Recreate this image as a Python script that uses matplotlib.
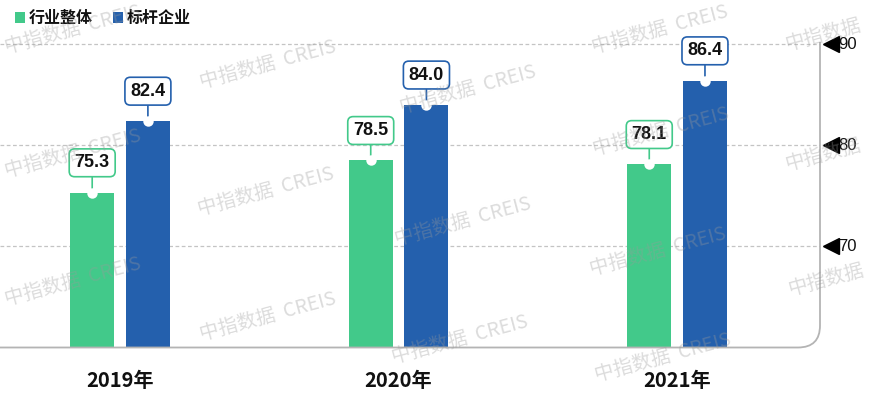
import numpy as np
import matplotlib
matplotlib.use('Agg')
import matplotlib.pyplot as plt
from matplotlib.path import Path
from matplotlib.patches import PathPatch, Rectangle
from matplotlib.transforms import Affine2D

plt.rcParams['font.family'] = ['Liberation Sans', 'Noto Sans CJK SC', 'DejaVu Sans']

# --- data ---
years = ['2019年', '2020年', '2021年']
series_names = ['行业整体', '标杆企业']
industry = [75.3, 78.5, 78.1]
benchmark = [82.4, 84.0, 86.4]
yticks = [70, 80, 90]

colors = ['#42c98a', '#2460ad']
W, H = 872, 394

fig = plt.figure(figsize=(W / 100, H / 100), dpi=100)
# pixel -> figure transform (image pixel coords, y downward)
pix = Affine2D().scale(1 / W, -1 / H).translate(0, 1) + fig.transFigure

ax = fig.add_axes([0, 47 / H, 820 / W, 347 / H])
ax.patch.set_alpha(0)
for s in ax.spines.values():
    s.set_visible(False)

x = np.arange(len(years))
width = 0.158
offs = [-0.1, 0.1]
ax.set_xlim(-0.431, 2.513)
ax.set_ylim(60, 94.4)

for yv in yticks:
    ax.axhline(yv, color='#c4c4c4', lw=0.9, ls=(0, (3, 2)), zorder=1)

for vals, off, c in zip([industry, benchmark], offs, colors):
    ax.bar(x + off, [v - 60 for v in vals], width, bottom=60, color=c, zorder=2)
    for xi, v in zip(x + off, vals):
        ax.annotate(f'{v:.1f}', xy=(xi, v), xytext=(0, 21.5),
                    textcoords='offset points', ha='center', va='center',
                    fontsize=13, fontweight='bold', color='#111111',
                    bbox=dict(boxstyle='round,pad=0.3,rounding_size=0.3',
                              fc='white', ec=c, lw=1.2),
                    arrowprops=dict(arrowstyle='-', color=c, lw=1.2,
                                    shrinkA=0, shrinkB=0),
                    zorder=4)
        ax.plot(xi, v, 'o', ms=7.5, mfc='white', mec='white', mew=0, zorder=5)

ax.set_xticks([])
ax.set_yticks([])

# year labels
for xi, lab in zip(x, years):
    ax.annotate(lab, xy=(xi, 60), xytext=(0, -24), textcoords='offset points',
                ha='center', va='center', fontsize=14.5, fontweight='bold',
                color='#111111', family=['Noto Sans CJK SC'], annotation_clip=False)

# right tick markers
for yv in yticks:
    ax.plot(1.013, yv, marker='<', ms=11, color='black',
            transform=ax.get_yaxis_transform(), clip_on=False)
    ax.text(1.022, yv, str(yv), transform=ax.get_yaxis_transform(),
            ha='left', va='center', fontsize=12, color='#111111')

# rounded frame: bottom line + right line
r = 22
verts = [(0, 347.5), (820 - r, 347.5), (820, 347.5), (820, 347.5 - r), (820, 42)]
codes = [Path.MOVETO, Path.LINETO, Path.CURVE3, Path.CURVE3, Path.LINETO]
fig.patches.append(PathPatch(Path(verts, codes), transform=pix, fill=False,
                             ec='#b4b4b4', lw=1.3))

# legend
for i, (name, c) in enumerate(zip(series_names, colors)):
    x0 = 15 + i * 98
    fig.patches.append(Rectangle((x0, 12), 10, 11, transform=pix, fc=c, ec='none'))
    fig.text(x0 + 14, 18, name, transform=pix, ha='left', va='center',
             fontsize=11.5, fontweight='bold', color='#111111',
             family=['Noto Sans CJK SC'])

# watermark "中指数据 CREIS" (drawn on top, faint)
wm_full = [(5, 48), (5, 172), (5, 300),
           (200, 83), (198, 210), (200, 335),
           (400, 108), (395, 240), (392, 358),
           (592, 48), (593, 150), (590, 270), (595, 376)]
wm_short = [(785, 45), (785, 165), (788, 290)]
for pts, txt in [(wm_full, '中指数据  CREIS'), (wm_short, '中指数据')]:
    for (px, py) in pts:
        fig.text(px, py, txt, transform=pix, fontsize=14,
                 color='#9a9a9a', alpha=0.35, rotation=15, rotation_mode='anchor',
                 ha='left', va='center', zorder=10,
                 family=['Noto Sans CJK SC', 'DejaVu Sans'])

fig.savefig('out.png', dpi=100)
